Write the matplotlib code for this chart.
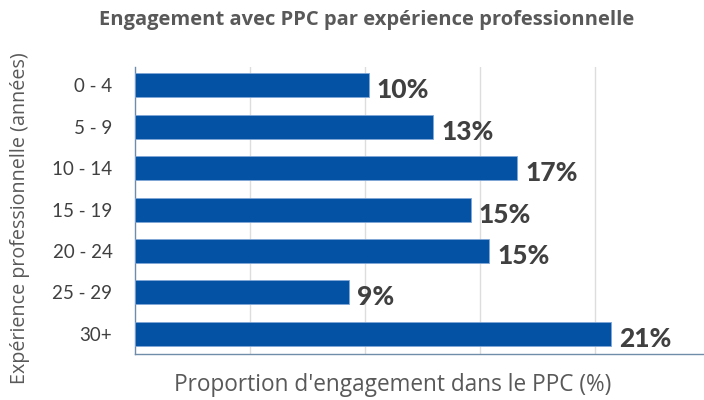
import matplotlib
matplotlib.use("Agg")
from matplotlib import pyplot as plt

categories = ["0 - 4", "5 - 9", "10 - 14", "15 - 19", "20 - 24", "25 - 29", "30+"]
values = [10.17, 12.98, 16.63, 14.6, 15.42, 9.33, 20.7]
labels = ["10%", "13%", "17%", "15%", "15%", "9%", "21%"]

bar_color = "#0352a3"
text_color = "#404040"
label_color = "#595959"


def plot_chart():
    fig = plt.figure(figsize=(7.04, 4.0), dpi=100)
    ax = fig.add_axes([0.1913, 0.115, 0.8087, 0.718])

    y = range(len(categories))
    ax.barh(y, values, height=0.58, color=bar_color, edgecolor="#7fa6d6", linewidth=0.6, zorder=3)

    for yi, v, lab in zip(y, values, labels):
        ax.annotate(lab, xy=(v, yi), xytext=(8, -5), textcoords="offset pixels",
                    ha="left", va="center", fontsize=19, family="Lato", fontweight="black",
                    color=text_color, zorder=4)

    ax.set_xlim(0, 24.75)
    ax.set_ylim(6.49, -0.45)
    ax.set_xticks([5, 10, 15, 20])
    ax.set_xticklabels([])
    ax.tick_params(axis="x", length=0)
    ax.set_yticks(list(y))
    ax.set_yticklabels(categories, family="Lato", fontsize=13.5, color=text_color)
    ax.tick_params(axis="y", length=0, pad=16)
    ax.grid(axis="x", color="#dddddd", linewidth=1, zorder=0)

    for side in ["top", "right"]:
        ax.spines[side].set_visible(False)
    for side in ["left", "bottom"]:
        ax.spines[side].set_color("#6f8ca8")
        ax.spines[side].set_linewidth(1)

    # axis titles placed in figure pixels
    fig.text(393 / 704, 1 - 385 / 400, "Proportion d'engagement dans le PPC (%)",
             ha="center", va="center", family="Open Sans", fontsize=16.3, color=label_color)
    fig.text(20 / 704, 1 - 218 / 400, "Expérience professionnelle (années)",
             ha="center", va="center", rotation=90, family="Open Sans",
             fontsize=14.2, color=label_color)

    fig.text(367 / 704, 1 - 20 / 400, "Engagement avec PPC par expérience professionnelle",
             ha="center", va="center", family="Open Sans", fontweight="bold",
             fontsize=14.5, color=label_color)

    fig.savefig("out.png", dpi=100)


if __name__ == '__main__':
    plot_chart()
